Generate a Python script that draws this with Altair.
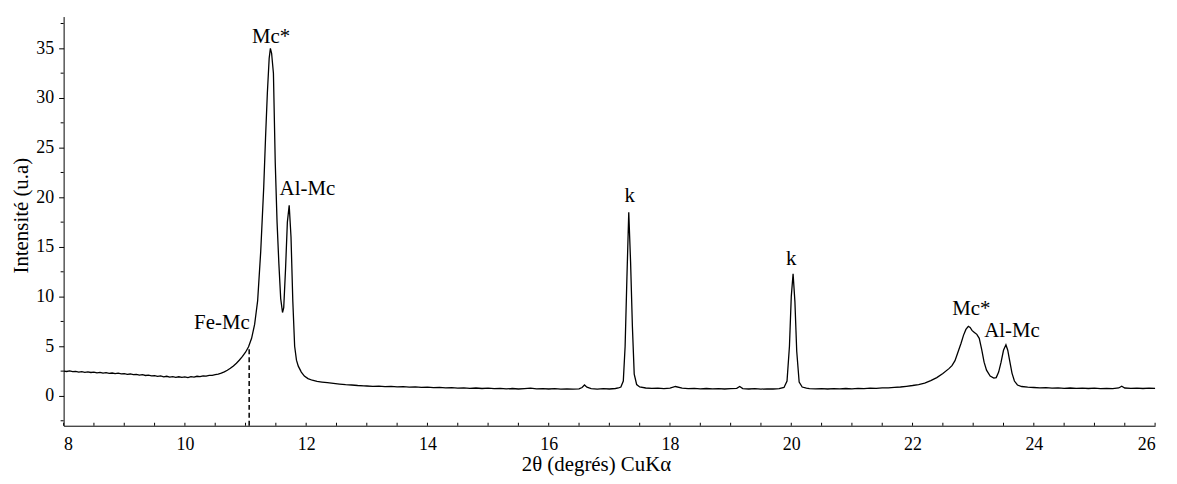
import altair as alt
import pandas as pd

# ---- XRD pattern ----
two_theta = [
    8.00, 8.05, 8.10, 8.15, 8.20, 8.25, 8.30, 8.35, 8.40, 8.45, 8.50, 8.55, 8.60, 8.65, 8.70, 8.75,
    8.80, 8.85, 8.90, 8.95, 9.00, 9.05, 9.10, 9.15, 9.20, 9.25, 9.30, 9.35, 9.40, 9.45, 9.50, 9.55,
    9.60, 9.65, 9.70, 9.75, 9.80, 9.85, 9.90, 9.95, 10.00, 10.05, 10.10, 10.15, 10.20, 10.25, 10.30,
    10.35, 10.40, 10.45, 10.50, 10.55, 10.60, 10.65, 10.70, 10.75, 10.80, 10.85, 10.90, 10.95, 11.00,
    11.05, 11.10, 11.15, 11.20, 11.25, 11.30, 11.33, 11.36, 11.39, 11.41, 11.43, 11.46, 11.49, 11.52,
    11.55, 11.58, 11.61, 11.63, 11.66, 11.69, 11.72, 11.75, 11.78, 11.81, 11.84, 11.87, 11.92, 11.97,
    12.03, 12.10, 12.18, 12.26, 12.35, 12.45, 12.55, 12.65, 12.75, 12.85, 12.95,
    13.0, 13.1, 13.2, 13.3, 13.4, 13.5, 13.6, 13.7, 13.8, 13.9, 14.0, 14.1, 14.2, 14.3, 14.4, 14.5,
    14.6, 14.7, 14.8, 14.9, 15.0, 15.1, 15.2, 15.3, 15.4, 15.5, 15.6, 15.7, 15.8, 15.9, 16.0, 16.1,
    16.2, 16.3, 16.4, 16.5, 16.55, 16.59, 16.63, 16.7, 16.8, 16.9, 17.0, 17.1, 17.15, 17.19, 17.23,
    17.26, 17.29, 17.32, 17.35, 17.38, 17.41, 17.45, 17.5, 17.6, 17.7, 17.8, 17.9, 18.0, 18.09, 18.2,
    18.3, 18.4, 18.5, 18.6, 18.7, 18.8, 18.9, 19.0, 19.1, 19.15, 19.2, 19.3, 19.4, 19.5, 19.6, 19.7,
    19.8, 19.88, 19.93, 19.97, 20.00, 20.03, 20.06, 20.09, 20.13, 20.18, 20.25, 20.3, 20.4, 20.5, 20.6,
    20.7, 20.8, 20.9, 21.0, 21.1, 21.2, 21.3, 21.4, 21.5, 21.6, 21.7, 21.8, 21.9, 22.0, 22.1, 22.2,
    22.3, 22.4, 22.5, 22.6, 22.65, 22.7, 22.76, 22.8, 22.84, 22.88, 22.92, 22.95, 22.98, 23.02, 23.06,
    23.10, 23.14, 23.18, 23.22, 23.28, 23.34, 23.38, 23.42, 23.46, 23.50, 23.54, 23.57, 23.60, 23.64,
    23.68, 23.73, 23.8, 23.9, 24.0, 24.1, 24.2, 24.3, 24.4, 24.5, 24.6, 24.7, 24.8, 24.9, 25.0, 25.1,
    25.2, 25.3, 25.4, 25.45, 25.5, 25.6, 25.7, 25.8, 25.9, 26.0,
]
intensity = [
    2.50, 2.46, 2.52, 2.44, 2.48, 2.40, 2.45, 2.38, 2.42, 2.36, 2.40, 2.33, 2.37, 2.30, 2.34, 2.28,
    2.31, 2.25, 2.29, 2.22, 2.24, 2.17, 2.21, 2.14, 2.18, 2.10, 2.14, 2.06, 2.10, 2.02, 2.05, 1.97,
    2.01, 1.93, 1.98, 1.90, 1.95, 1.88, 1.93, 1.86, 1.91, 1.84, 1.94, 1.90, 1.98, 1.95, 2.02,
    2.00, 2.08, 2.07, 2.15, 2.20, 2.30, 2.42, 2.58, 2.78, 3.02, 3.30, 3.62, 3.98, 4.40,
    4.95, 5.80, 7.20, 9.60, 14.5, 21.0, 26.0, 30.5, 34.0, 35.0, 34.5, 32.5, 23.5, 17.5,
    13.3, 9.8, 8.4, 8.9, 12.8, 17.5, 19.2, 16.0, 9.5, 5.0, 3.6, 3.0, 2.4, 2.0,
    1.75, 1.58, 1.47, 1.40, 1.33, 1.26, 1.20, 1.14, 1.10, 1.05, 1.02,
    1.00, 0.97, 0.99, 0.94, 0.96, 0.91, 0.93, 0.88, 0.91, 0.86, 0.88, 0.83, 0.86, 0.81, 0.84, 0.79,
    0.82, 0.77, 0.80, 0.75, 0.78, 0.73, 0.76, 0.71, 0.75, 0.70, 0.74, 0.78, 0.72, 0.74, 0.70, 0.73,
    0.69, 0.72, 0.68, 0.71, 0.85, 1.10, 0.88, 0.73, 0.69, 0.73, 0.70, 0.75, 0.80, 0.90, 1.50,
    5.0, 12.0, 18.5, 13.5, 7.0, 2.2, 1.15, 0.90, 0.80, 0.76, 0.79, 0.74, 0.79, 0.95, 0.78,
    0.74, 0.77, 0.72, 0.75, 0.71, 0.74, 0.70, 0.73, 0.76, 0.95, 0.74, 0.70, 0.73, 0.69, 0.72, 0.70,
    0.74, 0.85, 1.5, 5.0, 10.0, 12.3, 9.5, 4.5, 1.4, 0.90, 0.78, 0.74, 0.71, 0.74, 0.70,
    0.73, 0.71, 0.75, 0.72, 0.76, 0.74, 0.78, 0.77, 0.81, 0.82, 0.87, 0.90, 0.97, 1.05, 1.15, 1.30,
    1.55, 1.85, 2.25, 2.75, 3.05, 3.55, 4.6, 5.3, 6.1, 6.7, 7.0, 6.9, 6.6, 6.4, 6.2,
    5.8, 4.7, 3.4, 2.6, 2.0, 1.8, 1.85, 2.4, 3.4, 4.6, 5.15, 4.6, 3.6, 2.3,
    1.5, 1.1, 0.95, 0.88, 0.85, 0.81, 0.84, 0.79, 0.82, 0.77, 0.80, 0.76, 0.79, 0.75, 0.78, 0.74,
    0.77, 0.73, 0.80, 0.97, 0.80, 0.76, 0.79, 0.75, 0.78, 0.76,
]

# ---- peak annotations ----
label_text = ["Mc*", "Al-Mc", "Fe-Mc", "k", "k", "Mc*", "Al-Mc"]
label_x = [11.42, 12.02, 10.61, 17.335, 20.0, 22.97, 23.64]
label_y = [35.5, 20.2, 6.7, 19.5, 13.2, 8.2, 5.97]

# ---- dashed Fe-Mc marker ----
marker_x = [11.06]
marker_y_low = [-3]
marker_y_high = [4.9]

# ---- axis ticks ----
x_ticks = [8, 10, 12, 14, 16, 18, 20, 22, 24, 26]
x_minor = [8.5, 9, 9.5, 10.5, 11, 11.5, 12.5, 13, 13.5, 14.5, 15, 15.5, 16.5, 17, 17.5,
           18.5, 19, 19.5, 20.5, 21, 21.5, 22.5, 23, 23.5, 24.5, 25, 25.5]
y_ticks = [0, 5, 10, 15, 20, 25, 30, 35]
y_minor = [-2.5, 2.5, 7.5, 12.5, 17.5, 22.5, 27.5, 32.5, 37.5]

X_DOMAIN = [8, 26]
Y_DOMAIN = [-3, 38.2]
FONT = "Liberation Serif, Times New Roman, serif"
W, H = 1099, 412

curve_df = pd.DataFrame({"x": two_theta, "y": intensity})
label_df = pd.DataFrame({"t": label_text, "x": label_x, "y": label_y})
marker_df = pd.DataFrame({"x": marker_x, "y": marker_y_low, "y2": marker_y_high})
xtick_df = pd.DataFrame({"x": x_ticks + x_minor})
ytick_df = pd.DataFrame({"y": y_minor})

xscale = alt.Scale(domain=X_DOMAIN, nice=False, zero=False)
yscale = alt.Scale(domain=Y_DOMAIN, nice=False, zero=False)

xaxis = alt.Axis(
    values=x_ticks, title="2θ (degrés) CuKα", grid=False, ticks=False,
    labelFont=FONT, labelFontSize=18, labelColor="black", labelPadding=10,
    titleFont=FONT, titleFontSize=21, titleFontWeight="normal", titleColor="black",
    titleX=536, titleY=45, titleBaseline="alphabetic", titleAnchor="start", titleAlign="center",
    domainColor="black", domainWidth=1,
)
yaxis = alt.Axis(
    values=y_ticks, title="Intensité (u.a)", grid=False, tickSize=5, tickColor="black",
    labelFont=FONT, labelFontSize=18, labelColor="black", labelPadding=5,
    titleFont=FONT, titleFontSize=21, titleFontWeight="normal", titleColor="black",
    titleAngle=-90, titleX=-42, titleY=200, titleBaseline="middle", titleAlign="center",
    titleAnchor="start",
    domainColor="black", domainWidth=1,
)

curve = alt.Chart(curve_df).mark_line(color="black", strokeWidth=1.3).encode(
    x=alt.X("x:Q", scale=xscale, axis=xaxis),
    y=alt.Y("y:Q", scale=yscale, axis=yaxis),
)

marker = alt.Chart(marker_df).mark_rule(color="black", strokeWidth=1.5, strokeDash=[5, 3]).encode(
    x=alt.X("x:Q", scale=xscale, axis=xaxis),
    y=alt.Y("y:Q", scale=yscale, axis=yaxis),
    y2="y2:Q",
)

labels = alt.Chart(label_df).mark_text(
    font=FONT, fontSize=21, color="black", align="center", baseline="alphabetic"
).encode(
    x=alt.X("x:Q", scale=xscale, axis=xaxis),
    y=alt.Y("y:Q", scale=yscale, axis=yaxis),
    text="t:N",
)

xticks = alt.Chart(xtick_df).mark_rule(color="black", strokeWidth=1).encode(
    x=alt.X("x:Q", scale=xscale, axis=xaxis),
    y=alt.value(H),
    y2=alt.value(H - 3),
)

yticks = alt.Chart(ytick_df).mark_rule(color="black", strokeWidth=1).encode(
    y=alt.Y("y:Q", scale=yscale, axis=yaxis),
    x=alt.value(0),
    x2=alt.value(-3),
)

chart = alt.layer(curve, marker, labels, xticks, yticks).properties(
    width=W, height=H,
    autosize="none",
    padding={"left": 56, "top": 7, "right": 14, "bottom": 49},
).configure_view(stroke=None).configure_axis(
    labelFont=FONT, titleFont=FONT
).configure_text(font=FONT)

chart.save("out.html", embed_options={"renderer": "svg", "actions": False})
